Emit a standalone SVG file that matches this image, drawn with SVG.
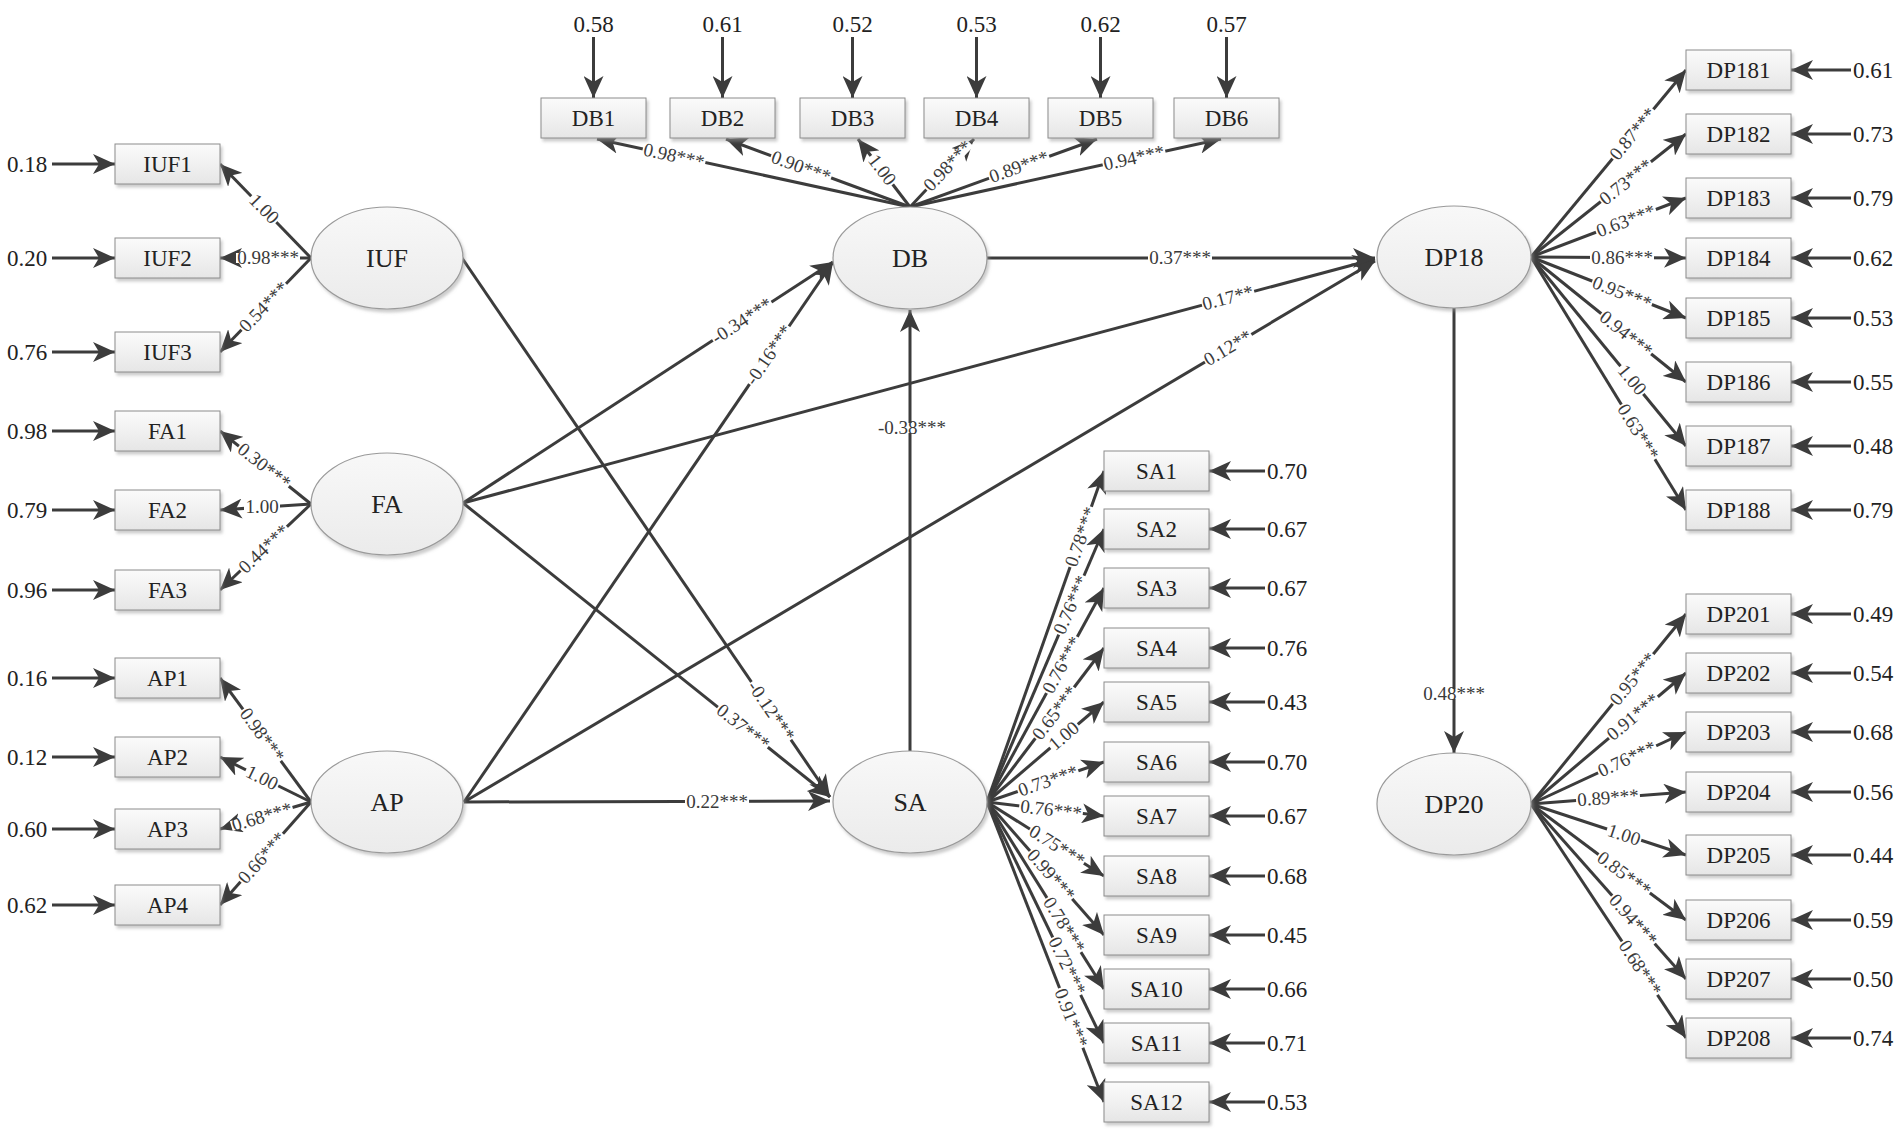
<svg xmlns="http://www.w3.org/2000/svg" width="1902" height="1135" viewBox="0 0 1902 1135">
<style>
.box{fill:url(#boxGrad);stroke:#8c8c8c;stroke-width:1;filter:url(#sh)}
.lat{fill:url(#ellGrad);stroke:#9a9a9a;stroke-width:1.2;filter:url(#sh)}
text{font-family:"Liberation Serif","Times New Roman",serif;fill:#222;text-anchor:middle}
.bl{font-size:23px}
.el{font-size:26px}
.ev{font-size:23px}
.evl{font-size:23px;text-anchor:start}
.c text{font-size:19px;fill:#3a3a3a}
.c rect{fill:#fff}
.ln{stroke:#3c3c3c;stroke-width:3;fill:none;marker-end:url(#ah)}
</style>
<defs>
<linearGradient id="boxGrad" x1="0" y1="0" x2="0" y2="1"><stop offset="0" stop-color="#fbfbfb"/><stop offset="1" stop-color="#e6e6e6"/></linearGradient>
<linearGradient id="ellGrad" x1="0" y1="0" x2="0" y2="1"><stop offset="0" stop-color="#f8f8f8"/><stop offset="1" stop-color="#ebebeb"/></linearGradient>
<filter id="sh" x="-10%" y="-10%" width="130%" height="140%"><feDropShadow dx="2" dy="3" stdDeviation="1.5" flood-color="#999" flood-opacity="0.5"/></filter>
<marker id="ah" markerUnits="userSpaceOnUse" markerWidth="24" markerHeight="20" refX="22" refY="10" orient="auto"><path d="M0,0 L22,10 L0,20 L6,10 z" fill="#3c3c3c"/></marker>
</defs>
<rect width="1902" height="1135" fill="#fff"/>

<g id="connectors">
<line class="ln" x1="52" y1="164" x2="115" y2="164"/>
<line class="ln" x1="52" y1="258" x2="115" y2="258"/>
<line class="ln" x1="52" y1="352" x2="115" y2="352"/>
<line class="ln" x1="52" y1="431" x2="115" y2="431"/>
<line class="ln" x1="52" y1="510" x2="115" y2="510"/>
<line class="ln" x1="52" y1="590" x2="115" y2="590"/>
<line class="ln" x1="52" y1="678" x2="115" y2="678"/>
<line class="ln" x1="52" y1="757" x2="115" y2="757"/>
<line class="ln" x1="52" y1="829" x2="115" y2="829"/>
<line class="ln" x1="52" y1="905" x2="115" y2="905"/>
<line class="ln" x1="311" y1="258" x2="220" y2="164"/>
<line class="ln" x1="311" y1="258" x2="220" y2="258"/>
<line class="ln" x1="311" y1="258" x2="220" y2="352"/>
<line class="ln" x1="311" y1="504" x2="220" y2="431"/>
<line class="ln" x1="311" y1="504" x2="220" y2="510"/>
<line class="ln" x1="311" y1="504" x2="220" y2="590"/>
<line class="ln" x1="311" y1="802" x2="220" y2="678"/>
<line class="ln" x1="311" y1="802" x2="220" y2="757"/>
<line class="ln" x1="311" y1="802" x2="220" y2="829"/>
<line class="ln" x1="311" y1="802" x2="220" y2="905"/>
<line class="ln" x1="593.5" y1="37" x2="593.5" y2="98"/>
<line class="ln" x1="722.5" y1="37" x2="722.5" y2="98"/>
<line class="ln" x1="852.5" y1="37" x2="852.5" y2="98"/>
<line class="ln" x1="976.5" y1="37" x2="976.5" y2="98"/>
<line class="ln" x1="1100.5" y1="37" x2="1100.5" y2="98"/>
<line class="ln" x1="1226.5" y1="37" x2="1226.5" y2="98"/>
<line class="ln" x1="910" y1="207" x2="597" y2="139"/>
<line class="ln" x1="910" y1="207" x2="726" y2="139"/>
<line class="ln" x1="910" y1="207" x2="858" y2="139"/>
<line class="ln" x1="910" y1="207" x2="974" y2="139"/>
<line class="ln" x1="910" y1="207" x2="1097" y2="139"/>
<line class="ln" x1="910" y1="207" x2="1221" y2="139"/>
<line class="ln" x1="1531" y1="257" x2="1686" y2="70"/>
<line class="ln" x1="1531" y1="257" x2="1686" y2="134"/>
<line class="ln" x1="1531" y1="257" x2="1686" y2="198"/>
<line class="ln" x1="1531" y1="257" x2="1686" y2="258"/>
<line class="ln" x1="1531" y1="257" x2="1686" y2="318"/>
<line class="ln" x1="1531" y1="257" x2="1686" y2="382"/>
<line class="ln" x1="1531" y1="257" x2="1686" y2="446"/>
<line class="ln" x1="1531" y1="257" x2="1686" y2="510"/>
<line class="ln" x1="1851" y1="70" x2="1791" y2="70"/>
<line class="ln" x1="1851" y1="134" x2="1791" y2="134"/>
<line class="ln" x1="1851" y1="198" x2="1791" y2="198"/>
<line class="ln" x1="1851" y1="258" x2="1791" y2="258"/>
<line class="ln" x1="1851" y1="318" x2="1791" y2="318"/>
<line class="ln" x1="1851" y1="382" x2="1791" y2="382"/>
<line class="ln" x1="1851" y1="446" x2="1791" y2="446"/>
<line class="ln" x1="1851" y1="510" x2="1791" y2="510"/>
<line class="ln" x1="1531" y1="804" x2="1686" y2="614"/>
<line class="ln" x1="1531" y1="804" x2="1686" y2="673"/>
<line class="ln" x1="1531" y1="804" x2="1686" y2="732"/>
<line class="ln" x1="1531" y1="804" x2="1686" y2="792"/>
<line class="ln" x1="1531" y1="804" x2="1686" y2="855"/>
<line class="ln" x1="1531" y1="804" x2="1686" y2="920"/>
<line class="ln" x1="1531" y1="804" x2="1686" y2="979"/>
<line class="ln" x1="1531" y1="804" x2="1686" y2="1038"/>
<line class="ln" x1="1851" y1="614" x2="1791" y2="614"/>
<line class="ln" x1="1851" y1="673" x2="1791" y2="673"/>
<line class="ln" x1="1851" y1="732" x2="1791" y2="732"/>
<line class="ln" x1="1851" y1="792" x2="1791" y2="792"/>
<line class="ln" x1="1851" y1="855" x2="1791" y2="855"/>
<line class="ln" x1="1851" y1="920" x2="1791" y2="920"/>
<line class="ln" x1="1851" y1="979" x2="1791" y2="979"/>
<line class="ln" x1="1851" y1="1038" x2="1791" y2="1038"/>
<line class="ln" x1="987" y1="802" x2="1104" y2="471"/>
<line class="ln" x1="987" y1="802" x2="1104" y2="529"/>
<line class="ln" x1="987" y1="802" x2="1104" y2="588"/>
<line class="ln" x1="987" y1="802" x2="1104" y2="648"/>
<line class="ln" x1="987" y1="802" x2="1104" y2="702"/>
<line class="ln" x1="987" y1="802" x2="1104" y2="762"/>
<line class="ln" x1="987" y1="802" x2="1104" y2="816"/>
<line class="ln" x1="987" y1="802" x2="1104" y2="876"/>
<line class="ln" x1="987" y1="802" x2="1104" y2="935"/>
<line class="ln" x1="987" y1="802" x2="1104" y2="989"/>
<line class="ln" x1="987" y1="802" x2="1104" y2="1043"/>
<line class="ln" x1="987" y1="802" x2="1104" y2="1102"/>
<line class="ln" x1="1265" y1="471" x2="1209" y2="471"/>
<line class="ln" x1="1265" y1="529" x2="1209" y2="529"/>
<line class="ln" x1="1265" y1="588" x2="1209" y2="588"/>
<line class="ln" x1="1265" y1="648" x2="1209" y2="648"/>
<line class="ln" x1="1265" y1="702" x2="1209" y2="702"/>
<line class="ln" x1="1265" y1="762" x2="1209" y2="762"/>
<line class="ln" x1="1265" y1="816" x2="1209" y2="816"/>
<line class="ln" x1="1265" y1="876" x2="1209" y2="876"/>
<line class="ln" x1="1265" y1="935" x2="1209" y2="935"/>
<line class="ln" x1="1265" y1="989" x2="1209" y2="989"/>
<line class="ln" x1="1265" y1="1043" x2="1209" y2="1043"/>
<line class="ln" x1="1265" y1="1102" x2="1209" y2="1102"/>
<line class="ln" x1="462" y1="258" x2="830" y2="797"/>
<line class="ln" x1="463" y1="503" x2="830" y2="797"/>
<line class="ln" x1="464" y1="802" x2="830" y2="801"/>
<line class="ln" x1="463" y1="503" x2="833" y2="262"/>
<line class="ln" x1="464" y1="802" x2="833" y2="262"/>
<line class="ln" x1="463" y1="503" x2="1375" y2="259"/>
<line class="ln" x1="464" y1="802" x2="1375" y2="261"/>
<line class="ln" x1="987" y1="258" x2="1375" y2="258"/>
<line class="ln" x1="910" y1="751" x2="910" y2="310"/>
<line class="ln" x1="1454" y1="307" x2="1454" y2="753"/>
</g>

<g id="coefficients" class="c">
<g transform="translate(264 209) rotate(45.9)"><rect x="-18" y="-5" width="36" height="10"/><text y="6">1.00</text></g>
<g transform="translate(268 258)"><rect x="-32" y="-5" width="64" height="10"/><text y="6">0.98***</text></g>
<g transform="translate(264 307) rotate(-45.9)"><rect x="-32" y="-5" width="64" height="10"/><text y="6">0.54***</text></g>
<g transform="translate(264 466) rotate(38.7)"><rect x="-32" y="-5" width="64" height="10"/><text y="6">0.30***</text></g>
<g transform="translate(262 507)"><rect x="-18" y="-5" width="36" height="10"/><text y="6">1.00</text></g>
<g transform="translate(264 549) rotate(-43.4)"><rect x="-32" y="-5" width="64" height="10"/><text y="6">0.44***</text></g>
<g transform="translate(262 735) rotate(53.7)"><rect x="-32" y="-5" width="64" height="10"/><text y="6">0.98***</text></g>
<g transform="translate(262 778) rotate(26.3)"><rect x="-18" y="-5" width="36" height="10"/><text y="6">1.00</text></g>
<g transform="translate(262 817) rotate(-16.5)"><rect x="-32" y="-5" width="64" height="10"/><text y="6">0.68***</text></g>
<g transform="translate(262 858) rotate(-48.5)"><rect x="-32" y="-5" width="64" height="10"/><text y="6">0.66***</text></g>

<g transform="translate(674 156) rotate(12.3)"><rect x="-32" y="-5" width="64" height="10"/><text y="6">0.98***</text></g>
<g transform="translate(801 167) rotate(20.3)"><rect x="-32" y="-5" width="64" height="10"/><text y="6">0.90***</text></g>
<g transform="translate(882 170) rotate(52.6)"><rect x="-18" y="-5" width="36" height="10"/><text y="6">1.00</text></g>
<g transform="translate(948 166) rotate(-46.7)"><rect x="-32" y="-5" width="64" height="10"/><text y="6">0.98***</text></g>
<g transform="translate(1019 167) rotate(-20)"><rect x="-32" y="-5" width="64" height="10"/><text y="6">0.89***</text></g>
<g transform="translate(1134 158) rotate(-12.3)"><rect x="-32" y="-5" width="64" height="10"/><text y="6">0.94***</text></g>

<g transform="translate(1633 134) rotate(-50.3)"><rect x="-32" y="-5" width="64" height="10"/><text y="6">0.87***</text></g>
<g transform="translate(1626 182) rotate(-38.4)"><rect x="-32" y="-5" width="64" height="10"/><text y="6">0.73***</text></g>
<g transform="translate(1626 221) rotate(-20.8)"><rect x="-32" y="-5" width="64" height="10"/><text y="6">0.63***</text></g>
<g transform="translate(1622 257.5)"><rect x="-32" y="-5" width="64" height="10"/><text y="6">0.86***</text></g>
<g transform="translate(1622 293) rotate(21.5)"><rect x="-32" y="-5" width="64" height="10"/><text y="6">0.95***</text></g>
<g transform="translate(1626 334) rotate(38.9)"><rect x="-32" y="-5" width="64" height="10"/><text y="6">0.94***</text></g>
<g transform="translate(1632 380) rotate(50.6)"><rect x="-18" y="-5" width="36" height="10"/><text y="6">1.00</text></g>
<g transform="translate(1638 432) rotate(58.5)"><rect x="-32" y="-5" width="64" height="10"/><text y="6">0.63***</text></g>

<g transform="translate(1633 679) rotate(-50.8)"><rect x="-32" y="-5" width="64" height="10"/><text y="6">0.95***</text></g>
<g transform="translate(1633 717) rotate(-40.2)"><rect x="-32" y="-5" width="64" height="10"/><text y="6">0.91***</text></g>
<g transform="translate(1627 759) rotate(-24.9)"><rect x="-32" y="-5" width="64" height="10"/><text y="6">0.76***</text></g>
<g transform="translate(1608 798) rotate(-4.4)"><rect x="-32" y="-5" width="64" height="10"/><text y="6">0.89***</text></g>
<g transform="translate(1624 835) rotate(18.2)"><rect x="-18" y="-5" width="36" height="10"/><text y="6">1.00</text></g>
<g transform="translate(1624 874) rotate(36.8)"><rect x="-32" y="-5" width="64" height="10"/><text y="6">0.85***</text></g>
<g transform="translate(1633 920) rotate(48.5)"><rect x="-32" y="-5" width="64" height="10"/><text y="6">0.94***</text></g>
<g transform="translate(1640 968) rotate(56.5)"><rect x="-32" y="-5" width="64" height="10"/><text y="6">0.68***</text></g>

<g transform="translate(1081 537) rotate(-70.5)"><rect x="-32" y="-5" width="64" height="10"/><text y="6">0.78***</text></g>
<g transform="translate(1071 605) rotate(-66.8)"><rect x="-32" y="-5" width="64" height="10"/><text y="6">0.76***</text></g>
<g transform="translate(1062 665) rotate(-61.3)"><rect x="-32" y="-5" width="64" height="10"/><text y="6">0.76***</text></g>
<g transform="translate(1055 713) rotate(-52.8)"><rect x="-32" y="-5" width="64" height="10"/><text y="6">0.65***</text></g>
<g transform="translate(1064 736) rotate(-40.5)"><rect x="-18" y="-5" width="36" height="10"/><text y="6">1.00</text></g>
<g transform="translate(1048 781) rotate(-18.9)"><rect x="-32" y="-5" width="64" height="10"/><text y="6">0.73***</text></g>
<g transform="translate(1051 810) rotate(6.8)"><rect x="-32" y="-5" width="64" height="10"/><text y="6">0.76***</text></g>
<g transform="translate(1057 846) rotate(32.3)"><rect x="-32" y="-5" width="64" height="10"/><text y="6">0.75***</text></g>
<g transform="translate(1051 875) rotate(48.7)"><rect x="-32" y="-5" width="64" height="10"/><text y="6">0.99***</text></g>
<g transform="translate(1064 925) rotate(58)"><rect x="-32" y="-5" width="64" height="10"/><text y="6">0.78***</text></g>
<g transform="translate(1067 966) rotate(64.1)"><rect x="-32" y="-5" width="64" height="10"/><text y="6">0.72***</text></g>
<g transform="translate(1071 1018) rotate(68.7)"><rect x="-32" y="-5" width="64" height="10"/><text y="6">0.91***</text></g>

<g transform="translate(771 711) rotate(55.7)"><rect x="-35" y="-5" width="70" height="10"/><text y="6">-0.12***</text></g>
<g transform="translate(743 727) rotate(38.7)"><rect x="-32" y="-5" width="64" height="10"/><text y="6">0.37***</text></g>
<g transform="translate(717 802)"><rect x="-32" y="-5" width="64" height="10"/><text y="6">0.22***</text></g>
<g transform="translate(742 321) rotate(-33.1)"><rect x="-35" y="-5" width="70" height="10"/><text y="6">-0.34***</text></g>
<g transform="translate(769 355) rotate(-55.6)"><rect x="-35" y="-5" width="70" height="10"/><text y="6">-0.16***</text></g>
<g transform="translate(1228 298) rotate(-15)"><rect x="-27" y="-5" width="54" height="10"/><text y="6">0.17**</text></g>
<g transform="translate(1228 348) rotate(-30.7)"><rect x="-27" y="-5" width="54" height="10"/><text y="6">0.12**</text></g>
<g transform="translate(1180 258)"><rect x="-32" y="-5" width="64" height="10"/><text y="6">0.37***</text></g>
<g transform="translate(912 428)"><rect x="-35" y="-5" width="70" height="10"/><text y="6">-0.38***</text></g>
<g transform="translate(1454 694)"><rect x="-32" y="-5" width="64" height="10"/><text y="6">0.48***</text></g>
</g>

<g id="error-values">
<text class="evl" x="7" y="172">0.18</text>
<text class="evl" x="7" y="266">0.20</text>
<text class="evl" x="7" y="360">0.76</text>
<text class="evl" x="7" y="439">0.98</text>
<text class="evl" x="7" y="518">0.79</text>
<text class="evl" x="7" y="598">0.96</text>
<text class="evl" x="7" y="686">0.16</text>
<text class="evl" x="7" y="765">0.12</text>
<text class="evl" x="7" y="837">0.60</text>
<text class="evl" x="7" y="913">0.62</text>
<text class="ev" x="593.5" y="32">0.58</text>
<text class="ev" x="722.5" y="32">0.61</text>
<text class="ev" x="852.5" y="32">0.52</text>
<text class="ev" x="976.5" y="32">0.53</text>
<text class="ev" x="1100.5" y="32">0.62</text>
<text class="ev" x="1226.5" y="32">0.57</text>
<text class="evl" x="1853" y="78">0.61</text>
<text class="evl" x="1853" y="142">0.73</text>
<text class="evl" x="1853" y="206">0.79</text>
<text class="evl" x="1853" y="266">0.62</text>
<text class="evl" x="1853" y="326">0.53</text>
<text class="evl" x="1853" y="390">0.55</text>
<text class="evl" x="1853" y="454">0.48</text>
<text class="evl" x="1853" y="518">0.79</text>
<text class="evl" x="1853" y="622">0.49</text>
<text class="evl" x="1853" y="681">0.54</text>
<text class="evl" x="1853" y="740">0.68</text>
<text class="evl" x="1853" y="800">0.56</text>
<text class="evl" x="1853" y="863">0.44</text>
<text class="evl" x="1853" y="928">0.59</text>
<text class="evl" x="1853" y="987">0.50</text>
<text class="evl" x="1853" y="1046">0.74</text>
<text class="evl" x="1267" y="479">0.70</text>
<text class="evl" x="1267" y="537">0.67</text>
<text class="evl" x="1267" y="596">0.67</text>
<text class="evl" x="1267" y="656">0.76</text>
<text class="evl" x="1267" y="710">0.43</text>
<text class="evl" x="1267" y="770">0.70</text>
<text class="evl" x="1267" y="824">0.67</text>
<text class="evl" x="1267" y="884">0.68</text>
<text class="evl" x="1267" y="943">0.45</text>
<text class="evl" x="1267" y="997">0.66</text>
<text class="evl" x="1267" y="1051">0.71</text>
<text class="evl" x="1267" y="1110">0.53</text>
</g>

<g id="IUF"><ellipse class="lat" cx="387" cy="258" rx="76" ry="51"/><text class="el" x="387" y="267">IUF</text></g>
<g id="FA"><ellipse class="lat" cx="387" cy="504" rx="76" ry="51"/><text class="el" x="387" y="513">FA</text></g>
<g id="AP"><ellipse class="lat" cx="387" cy="802" rx="76" ry="51"/><text class="el" x="387" y="811">AP</text></g>
<g id="DB"><ellipse class="lat" cx="910" cy="258" rx="77" ry="51"/><text class="el" x="910" y="267">DB</text></g>
<g id="SA"><ellipse class="lat" cx="910" cy="802" rx="77" ry="51"/><text class="el" x="910" y="811">SA</text></g>
<g id="DP18"><ellipse class="lat" cx="1454" cy="257" rx="77" ry="51"/><text class="el" x="1454" y="266">DP18</text></g>
<g id="DP20"><ellipse class="lat" cx="1454" cy="804" rx="77" ry="51"/><text class="el" x="1454" y="813">DP20</text></g>

<g id="IUF1"><rect class="box" x="115" y="144" width="105" height="40"/><text class="bl" x="167.5" y="172">IUF1</text></g>
<g id="IUF2"><rect class="box" x="115" y="238" width="105" height="40"/><text class="bl" x="167.5" y="266">IUF2</text></g>
<g id="IUF3"><rect class="box" x="115" y="332" width="105" height="40"/><text class="bl" x="167.5" y="360">IUF3</text></g>
<g id="FA1"><rect class="box" x="115" y="411" width="105" height="40"/><text class="bl" x="167.5" y="439">FA1</text></g>
<g id="FA2"><rect class="box" x="115" y="490" width="105" height="40"/><text class="bl" x="167.5" y="518">FA2</text></g>
<g id="FA3"><rect class="box" x="115" y="570" width="105" height="40"/><text class="bl" x="167.5" y="598">FA3</text></g>
<g id="AP1"><rect class="box" x="115" y="658" width="105" height="40"/><text class="bl" x="167.5" y="686">AP1</text></g>
<g id="AP2"><rect class="box" x="115" y="737" width="105" height="40"/><text class="bl" x="167.5" y="765">AP2</text></g>
<g id="AP3"><rect class="box" x="115" y="809" width="105" height="40"/><text class="bl" x="167.5" y="837">AP3</text></g>
<g id="AP4"><rect class="box" x="115" y="885" width="105" height="40"/><text class="bl" x="167.5" y="913">AP4</text></g>

<g id="DB1"><rect class="box" x="541" y="98" width="105" height="40"/><text class="bl" x="593.5" y="126">DB1</text></g>
<g id="DB2"><rect class="box" x="670" y="98" width="105" height="40"/><text class="bl" x="722.5" y="126">DB2</text></g>
<g id="DB3"><rect class="box" x="800" y="98" width="105" height="40"/><text class="bl" x="852.5" y="126">DB3</text></g>
<g id="DB4"><rect class="box" x="924" y="98" width="105" height="40"/><text class="bl" x="976.5" y="126">DB4</text></g>
<g id="DB5"><rect class="box" x="1048" y="98" width="105" height="40"/><text class="bl" x="1100.5" y="126">DB5</text></g>
<g id="DB6"><rect class="box" x="1174" y="98" width="105" height="40"/><text class="bl" x="1226.5" y="126">DB6</text></g>

<g id="SA1"><rect class="box" x="1104" y="451" width="105" height="40"/><text class="bl" x="1156.5" y="479">SA1</text></g>
<g id="SA2"><rect class="box" x="1104" y="509" width="105" height="40"/><text class="bl" x="1156.5" y="537">SA2</text></g>
<g id="SA3"><rect class="box" x="1104" y="568" width="105" height="40"/><text class="bl" x="1156.5" y="596">SA3</text></g>
<g id="SA4"><rect class="box" x="1104" y="628" width="105" height="40"/><text class="bl" x="1156.5" y="656">SA4</text></g>
<g id="SA5"><rect class="box" x="1104" y="682" width="105" height="40"/><text class="bl" x="1156.5" y="710">SA5</text></g>
<g id="SA6"><rect class="box" x="1104" y="742" width="105" height="40"/><text class="bl" x="1156.5" y="770">SA6</text></g>
<g id="SA7"><rect class="box" x="1104" y="796" width="105" height="40"/><text class="bl" x="1156.5" y="824">SA7</text></g>
<g id="SA8"><rect class="box" x="1104" y="856" width="105" height="40"/><text class="bl" x="1156.5" y="884">SA8</text></g>
<g id="SA9"><rect class="box" x="1104" y="915" width="105" height="40"/><text class="bl" x="1156.5" y="943">SA9</text></g>
<g id="SA10"><rect class="box" x="1104" y="969" width="105" height="40"/><text class="bl" x="1156.5" y="997">SA10</text></g>
<g id="SA11"><rect class="box" x="1104" y="1023" width="105" height="40"/><text class="bl" x="1156.5" y="1051">SA11</text></g>
<g id="SA12"><rect class="box" x="1104" y="1082" width="105" height="40"/><text class="bl" x="1156.5" y="1110">SA12</text></g>

<g id="DP181"><rect class="box" x="1686" y="50" width="105" height="40"/><text class="bl" x="1738.5" y="78">DP181</text></g>
<g id="DP182"><rect class="box" x="1686" y="114" width="105" height="40"/><text class="bl" x="1738.5" y="142">DP182</text></g>
<g id="DP183"><rect class="box" x="1686" y="178" width="105" height="40"/><text class="bl" x="1738.5" y="206">DP183</text></g>
<g id="DP184"><rect class="box" x="1686" y="238" width="105" height="40"/><text class="bl" x="1738.5" y="266">DP184</text></g>
<g id="DP185"><rect class="box" x="1686" y="298" width="105" height="40"/><text class="bl" x="1738.5" y="326">DP185</text></g>
<g id="DP186"><rect class="box" x="1686" y="362" width="105" height="40"/><text class="bl" x="1738.5" y="390">DP186</text></g>
<g id="DP187"><rect class="box" x="1686" y="426" width="105" height="40"/><text class="bl" x="1738.5" y="454">DP187</text></g>
<g id="DP188"><rect class="box" x="1686" y="490" width="105" height="40"/><text class="bl" x="1738.5" y="518">DP188</text></g>

<g id="DP201"><rect class="box" x="1686" y="594" width="105" height="40"/><text class="bl" x="1738.5" y="622">DP201</text></g>
<g id="DP202"><rect class="box" x="1686" y="653" width="105" height="40"/><text class="bl" x="1738.5" y="681">DP202</text></g>
<g id="DP203"><rect class="box" x="1686" y="712" width="105" height="40"/><text class="bl" x="1738.5" y="740">DP203</text></g>
<g id="DP204"><rect class="box" x="1686" y="772" width="105" height="40"/><text class="bl" x="1738.5" y="800">DP204</text></g>
<g id="DP205"><rect class="box" x="1686" y="835" width="105" height="40"/><text class="bl" x="1738.5" y="863">DP205</text></g>
<g id="DP206"><rect class="box" x="1686" y="900" width="105" height="40"/><text class="bl" x="1738.5" y="928">DP206</text></g>
<g id="DP207"><rect class="box" x="1686" y="959" width="105" height="40"/><text class="bl" x="1738.5" y="987">DP207</text></g>
<g id="DP208"><rect class="box" x="1686" y="1018" width="105" height="40"/><text class="bl" x="1738.5" y="1046">DP208</text></g>
</svg>
